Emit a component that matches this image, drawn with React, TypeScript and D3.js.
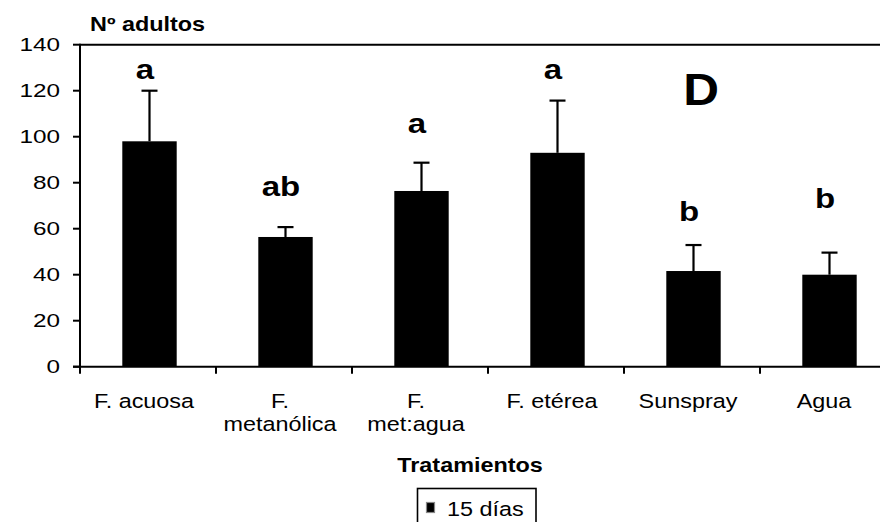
import React from "react";
import * as d3 from "d3";

// Treatments (multi-line tick labels), mean adults and upper error
const categories = ["F. acuosa", "F. metanólica", "F. met:agua", "F. etérea", "Sunspray", "Agua"];
const categoryLines = [["F. acuosa"], ["F.", "metanólica"], ["F.", "met:agua"], ["F. etérea"], ["Sunspray"], ["Agua"]];
const means = [98, 56.4, 76.4, 93, 41.6, 40];
const errors = [22, 4.3, 12.3, 22.7, 11.3, 9.6];
const letters = ["a", "ab", "a", "a", "b", "b"];
const letterLevels = [125, 74.2, 101.6, 125, 63.3, 69];
const yTicks = [0, 20, 40, 60, 80, 100, 120, 140];

const W = 880;
const H = 522;
const SX = 1.2; // horizontal stretch applied to text
const FONT = "'Liberation Sans', Arial, sans-serif";

const x = d3.scaleBand<string>().domain(categories).range([80, 896]).padding(0);
const y = d3.scaleLinear().domain([0, 140]).range([366.7, 44.7]);

function T({ x: tx, y: ty, children, size = 19.5, bold = false, anchor = "start", sx = SX }: any) {
  return (
    <text
      transform={`translate(${tx},${ty}) scale(${sx},1)`}
      fontFamily={FONT}
      fontSize={size}
      fontWeight={bold ? "bold" : "normal"}
      textAnchor={anchor}
      fill="#000"
    >
      {children}
    </text>
  );
}

export default function App() {
  const bw = x.bandwidth();
  const barW = bw * 0.4;
  const capW = 16;
  const y0 = y(0);
  return (
    <svg width={W} height={H} style={{ position: "fixed", left: 0, top: 0, background: "#fff" }}>
      <rect width={W} height={H} fill="#fff" />

      {/* bars */}
      {categories.map((c, i) => {
        const cx = (x(c) as number) + bw / 2 + 1.5;
        return (
          <g key={c}>
            <rect x={cx - barW / 2} y={y(means[i])} width={barW} height={y0 - y(means[i])} fill="#000" />
            <line x1={cx} x2={cx} y1={y(means[i])} y2={y(means[i] + errors[i])} stroke="#000" strokeWidth={2.2} />
            <line x1={cx - capW / 2} x2={cx + capW / 2} y1={y(means[i] + errors[i])} y2={y(means[i] + errors[i])} stroke="#000" strokeWidth={2.2} />
          </g>
        );
      })}

      {/* significance letters */}
      {categories.map((c, i) => (
        <T key={c} x={(x(c) as number) + bw / 2 - 3} y={y(letterLevels[i])} size={27.5} bold anchor="middle">
          {letters[i]}
        </T>
      ))}

      {/* y axis */}
      <line x1={80} x2={80} y1={y(140) - 1} y2={y0 + 1} stroke="#000" strokeWidth={2} />
      {yTicks.map((t) => (
        <g key={t}>
          <line x1={73} x2={80} y1={y(t)} y2={y(t)} stroke="#000" strokeWidth={2} />
          <T x={60} y={y(t) + 6.5} size={18} sx={1.35} anchor="end">{t}</T>
        </g>
      ))}
      {/* top frame */}
      <line x1={80} x2={W} y1={y(140)} y2={y(140)} stroke="#000" strokeWidth={2} />

      {/* x axis */}
      <line x1={73} x2={W} y1={y0} y2={y0} stroke="#000" strokeWidth={2} />
      {categories.map((c) => (
        <line key={c} x1={x(c) as number} x2={x(c) as number} y1={y0} y2={y0 + 7} stroke="#000" strokeWidth={2} />
      ))}
      {categories.map((c, i) => (
        <g key={c}>
          {categoryLines[i].map((ln, j) => (
            <T key={j} x={(x(c) as number) + bw / 2 - 4} y={408 + j * 23} anchor="middle">{ln}</T>
          ))}
        </g>
      ))}

      {/* titles */}
      <T x={90} y={31} bold>Nº adultos</T>
      <T x={470} y={472} bold anchor="middle">Tratamientos</T>
      <T x={701} y={105} size={45} sx={1.1} bold anchor="middle">D</T>

      {/* legend */}
      <rect x={417.5} y={488.5} width={118.5} height={45} fill="#fff" stroke="#000" strokeWidth={1.6} />
      <rect x={426.5} y={502.5} width={8} height={10} fill="#000" stroke="#888" strokeWidth={1.2} />
      <T x={447} y={516}>15 días</T>
    </svg>
  );
}
